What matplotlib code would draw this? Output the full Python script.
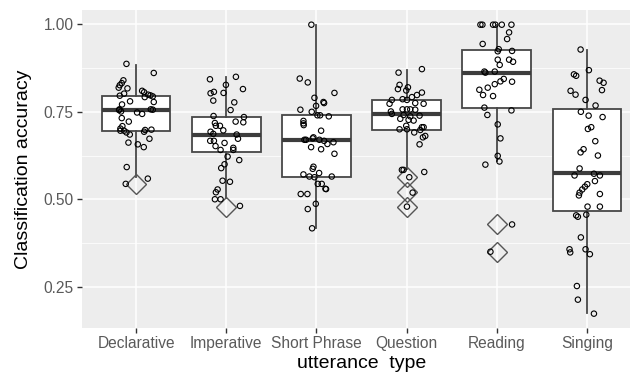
import matplotlib
matplotlib.use("Agg")
import matplotlib.pyplot as plt
from matplotlib.ticker import FixedLocator

plt.rcParams['font.family'] = ['Liberation Sans', 'DejaVu Sans']

categories = ["Declarative", "Imperative", "Short Phrase", "Question", "Reading", "Singing"]

# box statistics
q1 = [0.696, 0.636, 0.565, 0.698, 0.762, 0.466]
med = [0.755, 0.684, 0.668, 0.744, 0.862, 0.574]
q3 = [0.795, 0.735, 0.740, 0.784, 0.927, 0.759]
whislo = [0.565, 0.503, 0.417, 0.586, 0.608, 0.175]
whishi = [0.885, 0.849, 0.999, 0.870, 0.999, 0.927]
outliers = [[0.544], [0.479], [], [0.563, 0.521, 0.479], [0.428, 0.350], []]

# jittered observations: values and horizontal jitter (category units)
decl_vals = [0.887, 0.861, 0.840, 0.832, 0.826, 0.819, 0.817, 0.802, 0.796, 0.810, 0.806, 0.799, 0.797,
             0.792, 0.794, 0.778, 0.780, 0.771, 0.757, 0.751, 0.755, 0.757, 0.756, 0.748, 0.744, 0.732,
             0.722, 0.709, 0.702, 0.696, 0.696, 0.698, 0.699, 0.693, 0.691, 0.685, 0.673, 0.662, 0.657,
             0.649, 0.592, 0.559, 0.544]
decl_jit = [-0.107, 0.196, -0.141, -0.159, -0.181, -0.193, -0.096, -0.133, -0.181, 0.067, 0.089, 0.133, 0.159,
            0.096, 0.185, 0.196, -0.067, -0.156, -0.185, -0.167, -0.189, 0.163, 0.185, 0.011, 0.067, -0.159,
            -0.081, -0.152, -0.174, -0.133, -0.174, 0.100, 0.170, 0.089, -0.107, -0.070, 0.148, -0.085, 0.019,
            0.085, -0.104, 0.130, -0.115]

imp_vals = [0.843, 0.850, 0.827, 0.815, 0.803, 0.807, 0.804, 0.782, 0.777, 0.755, 0.738, 0.735, 0.722, 0.720,
            0.718, 0.710, 0.710, 0.697, 0.693, 0.687, 0.685, 0.673, 0.667, 0.667, 0.661, 0.652, 0.641, 0.647,
            0.641, 0.622, 0.612, 0.600, 0.589, 0.553, 0.550, 0.528, 0.520, 0.500, 0.500, 0.481]
imp_jit = [-0.181, 0.107, -0.004, 0.185, -0.174, -0.137, -0.030, -0.144, 0.089, 0.048, -0.141, 0.196, 0.104, 0.189,
           -0.126, -0.115, -0.070, -0.033, -0.174, -0.144, 0.115, 0.130, -0.178, -0.137, -0.019, -0.119, -0.063, 0.078,
           0.078, 0.015, 0.144, -0.019, -0.056, -0.041, 0.041, -0.096, -0.115, -0.126, -0.063, 0.152]

short_vals = [0.999, 0.845, 0.834, 0.804, 0.790, 0.767, 0.778, 0.775, 0.756, 0.750, 0.740, 0.740, 0.737, 0.724,
              0.717, 0.712, 0.696, 0.670, 0.670, 0.677, 0.674, 0.670, 0.667, 0.658, 0.663, 0.649, 0.643, 0.630,
              0.593, 0.587, 0.575, 0.571, 0.565, 0.563, 0.565, 0.544, 0.544, 0.530, 0.529, 0.515, 0.515, 0.487,
              0.472, 0.417]
short_jit = [-0.056, -0.185, -0.096, 0.200, -0.022, -0.004, 0.078, 0.085, -0.178, -0.052, 0.011, 0.041, 0.137, -0.144,
             -0.144, -0.141, 0.052, -0.133, -0.115, -0.033, -0.041, 0.033, 0.085, 0.122, 0.189, -0.059, 0.052, 0.200,
             -0.033, -0.041, 0.030, -0.144, -0.078, -0.022, 0.170, 0.015, 0.059, 0.100, 0.107, -0.174, -0.100, -0.007,
             -0.096, -0.048]

ques_vals = [0.862, 0.872, 0.827, 0.815, 0.820, 0.811, 0.805, 0.798, 0.792, 0.786, 0.784, 0.784, 0.773, 0.775,
             0.773, 0.757, 0.757, 0.757, 0.751, 0.756, 0.744, 0.741, 0.737, 0.739, 0.730, 0.727, 0.725, 0.710,
             0.700, 0.700, 0.706, 0.706, 0.698, 0.691, 0.677, 0.681, 0.657, 0.584, 0.584, 0.578, 0.563, 0.519,
             0.479]
ques_jit = [-0.089, 0.170, -0.078, -0.096, 0.015, -0.004, 0.170, 0.115, 0.059, -0.044, -0.163, 0.004, -0.189, 0.096,
            0.189, -0.044, 0.004, 0.041, -0.174, 0.096, -0.163, -0.033, 0.041, 0.144, -0.070, 0.022, 0.078, -0.004,
            -0.078, 0.004, 0.170, 0.189, 0.152, 0.085, 0.181, 0.207, 0.144, -0.052, -0.033, 0.196, 0.030, 0.067,
            0.004]

read_vals = [0.999, 0.999, 0.999, 0.999, 0.999, 0.999, 0.977, 0.958, 0.944, 0.929, 0.923, 0.924, 0.899, 0.899,
             0.893, 0.884, 0.865, 0.862, 0.865, 0.844, 0.837, 0.836, 0.829, 0.819, 0.813, 0.798, 0.795, 0.762,
             0.754, 0.741, 0.714, 0.674, 0.624, 0.608, 0.599, 0.428, 0.350]
read_jit = [-0.181, -0.159, -0.041, -0.015, 0.056, 0.163, 0.137, 0.115, -0.156, 0.022, 0.011, 0.170, 0.011, 0.137,
            0.181, 0.033, -0.137, -0.126, -0.022, 0.078, 0.041, 0.170, -0.022, -0.100, -0.193, -0.152, -0.041, -0.137,
            0.163, -0.104, 0.011, 0.041, 0.011, 0.030, -0.126, 0.170, -0.070]

sing_vals = [0.928, 0.869, 0.857, 0.853, 0.839, 0.833, 0.810, 0.799, 0.812, 0.784, 0.768, 0.750, 0.739, 0.735,
             0.701, 0.706, 0.666, 0.634, 0.643, 0.625, 0.588, 0.568, 0.573, 0.568, 0.552, 0.543, 0.536, 0.528,
             0.519, 0.511, 0.515, 0.479, 0.479, 0.454, 0.450, 0.456, 0.391, 0.357, 0.348, 0.357, 0.343, 0.252,
             0.213, 0.173]
sing_jit = [-0.070, 0.022, -0.144, -0.119, 0.141, 0.185, -0.181, -0.126, 0.167, -0.015, 0.096, -0.067, 0.019, 0.174,
            0.011, 0.048, 0.093, -0.070, -0.037, 0.122, -0.081, -0.137, 0.078, 0.144, 0.089, 0.004, -0.022, -0.052,
            -0.081, -0.089, 0.144, 0.007, 0.144, -0.119, -0.100, -0.007, -0.067, -0.193, -0.185, -0.015, 0.033, -0.111,
            -0.100, 0.078]

all_vals = [decl_vals, imp_vals, short_vals, ques_vals, read_vals, sing_vals]
all_jit = [decl_jit, imp_jit, short_jit, ques_jit, read_jit, sing_jit]

fig = plt.figure(figsize=(6.3, 3.74), dpi=100)
ax = fig.add_axes([82 / 630, 1 - 328 / 374, (641 - 82) / 630, (328 - 10) / 374])
ax.set_facecolor('#EDEDED')

positions = list(range(1, len(categories) + 1))
stats = []
for i in range(len(categories)):
    stats.append(dict(med=med[i], q1=q1[i], q3=q3[i], whislo=whislo[i], whishi=whishi[i],
                      fliers=outliers[i], label=categories[i]))

edge = '#474747'
ax.bxp(stats, positions=positions, widths=0.76, showcaps=False, patch_artist=True,
       boxprops=dict(facecolor='white', edgecolor=edge, linewidth=1.3),
       whiskerprops=dict(color=edge, linewidth=1.3),
       medianprops=dict(color='#3d3d3d', linewidth=3.0),
       flierprops=dict(marker='D', markersize=10, markerfacecolor='none',
                       markeredgecolor='#555555', markeredgewidth=1.0),
       zorder=2)

for i, (vals, jit) in enumerate(zip(all_vals, all_jit)):
    xs = [positions[i] + j for j in jit]
    ax.scatter(xs, vals, s=15, facecolors='none', edgecolors='black', linewidths=0.8, zorder=3)

ax.set_xlim(0.4, 6.6)
ax.set_ylim(0.132, 1.041)
ax.set_xticks(positions)
ax.set_xticklabels(categories)
ax.set_yticks([0.25, 0.50, 0.75, 1.00])
ax.set_yticklabels(["0.25", "0.50", "0.75", "1.00"])
ax.yaxis.set_minor_locator(FixedLocator([0.375, 0.625, 0.875]))
ax.tick_params(axis='y', which='minor', length=0)
ax.grid(True, which='major', color='white', linewidth=1.1, zorder=0)
ax.grid(True, which='minor', axis='y', color='white', linewidth=0.55, zorder=0)
ax.set_axisbelow(True)
for s in ax.spines.values():
    s.set_visible(False)
ax.tick_params(axis='both', which='major', length=3.5, width=1.0, color='#333333',
               labelcolor='#5a5a5a', labelsize=11.2, pad=2.5)

ax.set_xlabel("utterance  type", fontsize=14, color='black', labelpad=3)
ax.set_ylabel("Classification accuracy", fontsize=14, color='black', labelpad=8)

fig.savefig("out.png", dpi=100)
